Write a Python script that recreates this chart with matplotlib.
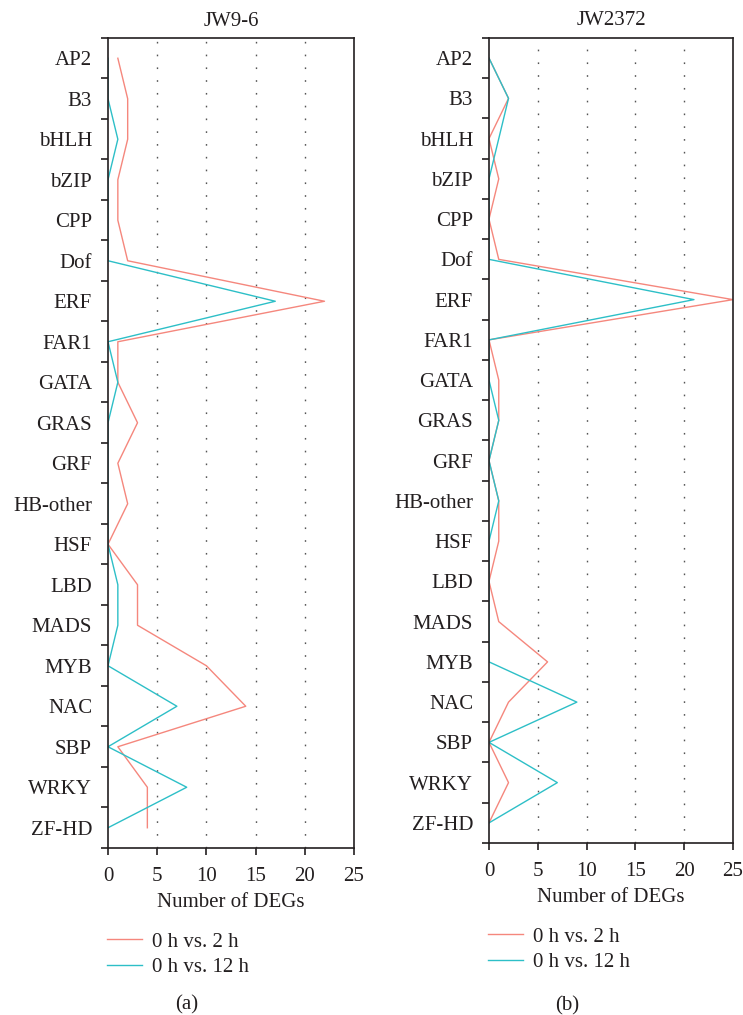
import numpy as np
import matplotlib
matplotlib.use('Agg')
from matplotlib import pyplot as plt
from matplotlib import ticker

plt.rcParams['font.family'] = ['Liberation Serif', 'DejaVu Serif']
plt.rcParams['font.size'] = 15
plt.rcParams['lines.scale_dashes'] = False

# transcription factor families, top to bottom
families = ['AP2', 'B3', 'bHLH', 'bZIP', 'CPP', 'Dof', 'ERF', 'FAR1', 'GATA', 'GRAS',
            'GRF', 'HB-other', 'HSF', 'LBD', 'MADS', 'MYB', 'NAC', 'SBP', 'WRKY', 'ZF-HD']

# JW9-6
jw96_2h = [1, 2, 2, 1, 1, 2, 22, 1, 1, 3, 1, 2, 0, 3, 3, 10, 14, 1, 4, 4]
jw96_12h = [0, 0, 1, 0, 0, 0, 17, 0, 1, 0, 0, 0, 0, 1, 1, 0, 7, 0, 8, 0]

# JW2372
jw2372_2h = [0, 2, 0, 1, 0, 1, 25, 0, 1, 1, 0, 1, 1, 0, 1, 6, 2, 0, 2, 0]
jw2372_12h = [0, 2, 1, 0, 0, 0, 21, 0, 0, 1, 0, 1, 0, 0, 0, 0, 9, 0, 7, 0]

titles = ['JW9-6', 'JW2372']
legend_labels = ['0 h vs. 2 h', '0 h vs. 12 h']
panel_tags = ['(a)', '(b)']
xticks = [0, 5, 10, 15, 20, 25]

red = '#F5877D'
cyan = '#2DBFC7'
ink = '#231f20'

W, H = 743, 1015
fig = plt.figure(figsize=(W / 100, H / 100), dpi=100)

# pixel boxes: left, right, top, bottom
boxes = [(108, 354, 38, 848), (489, 733, 38, 843)]
leg_pos = [(107, 932), (488, 927)]
tag_pos = [(187, 1005), (567, 1006)]
series = [(jw96_2h, jw96_12h), (jw2372_2h, jw2372_12h)]

y = np.arange(len(families))

for k in range(2):
    l, r, t, b = boxes[k]
    ax = fig.add_axes([l / W, 1 - b / H, (r - l) / W, (b - t) / H])
    s2, s12 = series[k]
    ax.plot(s2, y, color=red, lw=1.0, label=legend_labels[0])
    ax.plot(s12, y, color=cyan, lw=1.0, label=legend_labels[1])

    ax.set_xlim(0, 25)
    ax.set_ylim(len(families) - 0.5, -0.5)
    ax.set_xticks(xticks)
    ax.set_yticks(y)
    ax.set_yticklabels(families)
    ax.yaxis.set_minor_locator(ticker.FixedLocator(np.arange(-0.5, len(families), 1)))
    ax.tick_params(axis='y', which='major', length=0, pad=11.5, colors=ink, labelsize=15)
    ax.tick_params(axis='y', which='minor', length=5, width=1.2, direction='out', color=ink)
    ax.tick_params(axis='x', length=5, width=1.2, direction='out', color=ink, labelcolor=ink,
                   labelsize=15, pad=9)

    for xv in xticks[1:-1]:
        ax.axvline(xv, color='#555555', lw=1.0, linestyle=(0, (1.2, 8)), zorder=0)

    for sp in ax.spines.values():
        sp.set_color(ink)
        sp.set_linewidth(1.2)

    ax.set_title(titles[k], color=ink, fontsize=15, pad=9)
    ax.set_xlabel('Number of DEGs', color=ink, fontsize=15, labelpad=5)

    lx, ly = leg_pos[k]
    ax.legend(loc='upper left', bbox_to_anchor=(lx / W, 1 - ly / H),
              bbox_transform=fig.transFigure, frameon=False, borderpad=0,
              borderaxespad=0, handlelength=1.7, handletextpad=0.45,
              labelspacing=0.3, fontsize=15, labelcolor=ink)

    tx, ty = tag_pos[k]
    fig.text(tx / W, 1 - ty / H, panel_tags[k], ha='center', va='center',
             color=ink, fontsize=15)

plt.savefig('out.png', dpi=100)
